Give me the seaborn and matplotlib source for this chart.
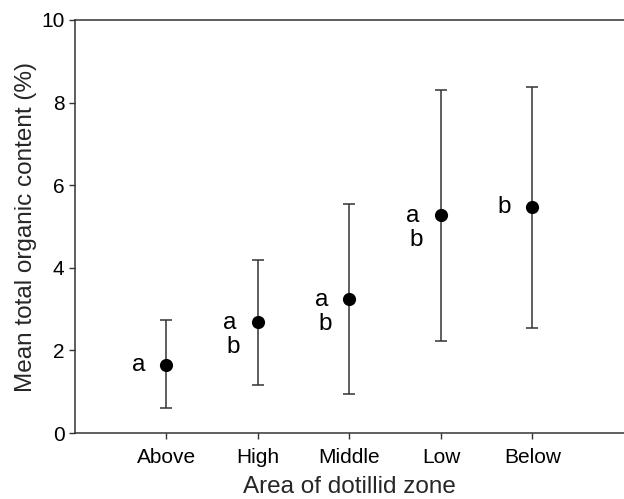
import matplotlib
matplotlib.use("Agg")
import matplotlib.pyplot as plt
import seaborn as sns
import pandas as pd
import numpy as np

zones = ["Above", "High", "Middle", "Low", "Below"]
means = [1.66, 2.68, 3.25, 5.27, 5.48]
upper = [2.73, 4.20, 5.55, 8.30, 8.38]
lower = [0.60, 1.16, 0.94, 2.22, 2.55]
letters = [["a"], ["a", "b"], ["a", "b"], ["a", "b"], ["b"]]

sns.set_theme(style="ticks")
plt.rcParams['font.family'] = ['Liberation Sans', 'DejaVu Sans']

df = pd.DataFrame({"zone": zones, "mean": means, "upper": upper, "lower": lower})

fig = plt.figure(figsize=(6.24, 4.99), dpi=100)
ax = fig.add_axes([0.120, 0.132, 0.880, 0.828])

xpos = np.arange(len(zones))
ax.errorbar(xpos, df["mean"],
            yerr=[df["mean"] - df["lower"], df["upper"] - df["mean"]],
            fmt="none", ecolor="#333333", elinewidth=1.1, capsize=4.2,
            capthick=1.1, zorder=2)
sns.scatterplot(data=df, x="zone", y="mean", ax=ax, color="black", s=90,
                edgecolor="black", linewidth=0, zorder=3)

for i, (m, labs) in enumerate(zip(means, letters)):
    for j, lab in enumerate(labs):
        ax.annotate(lab, (i, m), xytext=(-20 + 2.2 * j, -0.5 - 17.5 * j),
                    textcoords="offset points", ha="center", va="center",
                    fontsize=17.5, color="black")

ax.set_xlim(-1, 5.0)
ax.set_ylim(0, 10)
ax.set_yticks([0, 2, 4, 6, 8, 10])
ax.set_xticks(xpos)
ax.set_xticklabels(zones)
ax.tick_params(axis="both", direction="out", length=4.5, width=1.0,
               color="#333333", labelsize=15, labelcolor="black")
ax.tick_params(axis="x", pad=6)
ax.tick_params(axis="y", pad=3)
ax.set_xlabel("Area of dotillid zone", fontsize=17.5, labelpad=7)
ax.set_ylabel("Mean total organic content (%)", fontsize=17.5, labelpad=3)

for s in ["left", "bottom", "top"]:
    ax.spines[s].set_color("#333333")
    ax.spines[s].set_linewidth(1.1)
ax.spines["right"].set_visible(False)

fig.savefig("out.png", dpi=100)
